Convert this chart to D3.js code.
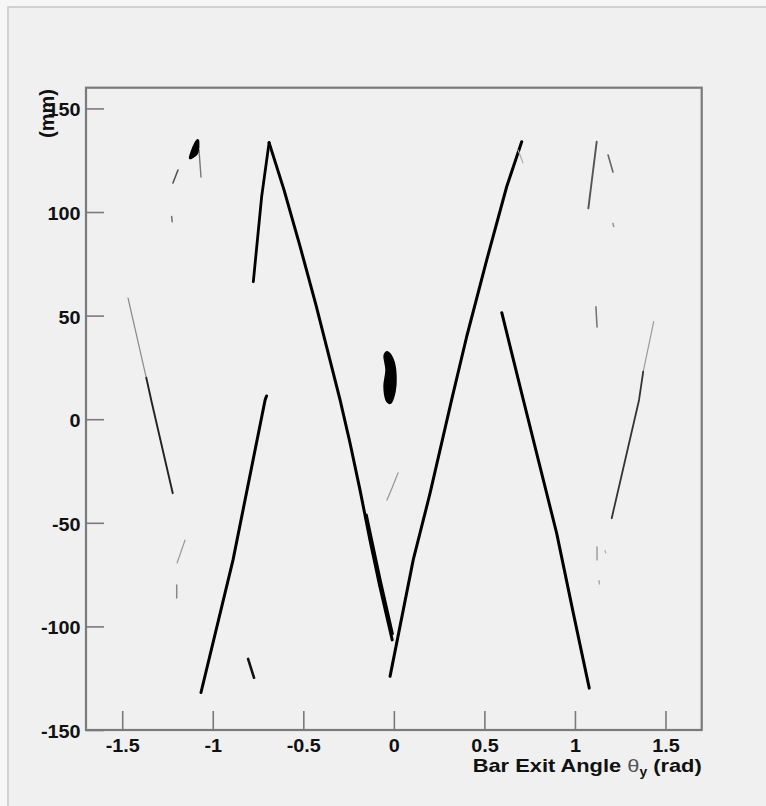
<!DOCTYPE html>
<html lang="en">
<head>
<meta charset="UTF-8">
<title>Bar Exit Angle vs y</title>
<style>
  body { margin: 0; padding: 0; overflow: hidden; background: #f6f6f6; }
  svg { display: block; }
</style>
</head>
<body>
<script src="https://d3js.org/d3.v7.min.js"></script>
<script>
// hit bands, [theta_y (rad), y (mm)] along each band
const leftRise      = [[-1.065, -131.9], [-0.888, -67.9], [-0.711, 9.3], [-0.703, 11.2]];
const leftPeakUp    = [[-0.776, 66.4], [-0.730, 107.4], [-0.689, 133.5]];
const leftPeakDown  = [[-0.689, 133.5], [-0.607, 110.8], [-0.519, 83.8], [-0.431, 55.4], [-0.353, 28.6],
                       [-0.297, 9.3], [-0.242, -11.5], [-0.187, -34.1], [-0.132, -58.3], [-0.077, -80.8], [-0.009, -106.5]];
const leftPeakInner = [[-0.151, -46.2], [-0.074, -77.9], [-0.007, -103.6]];
const centerRise    = [[-0.021, -124.1], [0.107, -67.9], [0.200, -35.7], [0.319, 9.3], [0.402, 39.8],
                       [0.513, 76.9], [0.623, 112.2], [0.706, 133.9]];
const rightFall     = [[0.596, 51.4], [0.715, 9.3], [0.807, -22.9], [0.899, -55.0], [0.991, -93.6], [1.079, -129.8]];
const farLeftTop    = [[-1.468, 58.5], [-1.367, 20.0]];
const farLeftLow    = [[-1.367, 20.0], [-1.340, 9.3], [-1.221, -35.7]];
const farRightTop   = [[1.435, 47.1], [1.377, 23.0]];
const farRightLow   = [[1.377, 23.0], [1.354, 9.3], [1.203, -47.8]];

// small clusters
const blobTopLeft   = [[-1.128, 126.0], [-1.108, 131.5], [-1.088, 134.6], [-1.078, 134.0], [-1.082, 129.0], [-1.100, 127.0]];
const tailTopLeft   = [[-1.076, 129.9], [-1.065, 116.9]];
const dashLeftA     = [[-1.192, 120.3], [-1.220, 114.0]];
const dashLeftB     = [[-1.227, 97.8], [-1.224, 95.3]];
const blobCenter    = [[-0.032, 32.4], [0.001, 27.6], [0.012, 19.9], [0.006, 13.2], [-0.016, 7.9],
                       [-0.043, 9.3], [-0.054, 16.1], [-0.043, 23.8], [-0.054, 30.5]];
const dashCenterLow = [[-0.038, -39.0], [-0.010, -33.2], [0.023, -25.9]];
const dashLeftLowA  = [[-1.153, -58.3], [-1.197, -69.4]];
const dashLeftLowB  = [[-1.199, -80.0], [-1.199, -86.3]];
const markBottom    = [[-0.805, -115.7], [-0.772, -124.8]];
const lineRightTop  = [[1.120, 133.9], [1.074, 101.8]];
const dashRightA    = [[1.183, 127.5], [1.210, 119.3]];
const dashRightB    = [[1.210, 94.5], [1.214, 93.0]];
const dashRightC    = [[1.116, 54.2], [1.122, 44.5]];
const dashRightLowA = [[1.122, -61.6], [1.122, -67.9]];
const dashRightLowB = [[1.166, -63.5], [1.170, -64.5]];
const dashRightLowC = [[1.133, -78.0], [1.135, -79.5]];
const tailRightPeak = [[0.686, 129.9], [0.713, 123.7]];

const xMajor = [-1.5, -1, -0.5, 0, 0.5, 1, 1.5];
const xMinor = d3.range(-16, 17).filter(d => d % 5 !== 0).map(d => d / 10);
const yMajor = [-150, -100, -50, 0, 50, 100, 150];
const yMinor = d3.range(-15, 17).filter(d => d % 5 !== 0).map(d => d * 10);

const width = 766, height = 806;
const svg = d3.select("body").append("svg")
  .attr("width", width)
  .attr("height", height);

// canvas pad
svg.append("rect")
  .attr("x", 8).attr("y", 7)
  .attr("width", 820).attr("height", 820)
  .attr("fill", "#f0f0f0")
  .attr("stroke", "#c6c6c6")
  .attr("stroke-width", 1.5);

const x = d3.scaleLinear().domain([-1.7, 1.7]).range([86, 701.7]);
const y = d3.scaleLinear().domain([-150, 160]).range([730, 87.7]);

const line = d3.line().x(d => x(d[0])).y(d => y(d[1]));
const blob = d3.line().x(d => x(d[0])).y(d => y(d[1])).curve(d3.curveCardinalClosed);

const tracks = [
  { pts: leftRise, w: 3, c: "#000" },
  { pts: leftPeakUp, w: 2.8, c: "#000" },
  { pts: leftPeakDown, w: 3, c: "#000" },
  { pts: leftPeakInner, w: 2.6, c: "#000" },
  { pts: centerRise, w: 3, c: "#000" },
  { pts: rightFall, w: 3, c: "#000" },
  { pts: farLeftTop, w: 1.2, c: "#8a8a8a" },
  { pts: farLeftLow, w: 1.9, c: "#222" },
  { pts: farRightTop, w: 1.2, c: "#9a9a9a" },
  { pts: farRightLow, w: 1.8, c: "#333" },
  { pts: tailTopLeft, w: 1.4, c: "#777" },
  { pts: dashLeftA, w: 1.6, c: "#555" },
  { pts: dashLeftB, w: 1.6, c: "#777" },
  { pts: dashCenterLow, w: 1.3, c: "#999" },
  { pts: dashLeftLowA, w: 1.2, c: "#999" },
  { pts: dashLeftLowB, w: 1.5, c: "#888" },
  { pts: markBottom, w: 2.6, c: "#111" },
  { pts: lineRightTop, w: 1.9, c: "#555" },
  { pts: dashRightA, w: 1.6, c: "#666" },
  { pts: dashRightB, w: 1.6, c: "#999" },
  { pts: dashRightC, w: 1.6, c: "#777" },
  { pts: dashRightLowA, w: 1.4, c: "#999" },
  { pts: dashRightLowB, w: 1.3, c: "#aaa" },
  { pts: dashRightLowC, w: 1.5, c: "#aaa" },
  { pts: tailRightPeak, w: 1.2, c: "#aaa" }
];

svg.append("g").selectAll("path")
  .data(tracks)
  .join("path")
  .attr("d", d => line(d.pts))
  .attr("fill", "none")
  .attr("stroke", d => d.c)
  .attr("stroke-width", d => d.w)
  .attr("stroke-linecap", "round")
  .attr("stroke-linejoin", "round");

// dense clusters drawn as filled blobs
svg.append("g").selectAll("path")
  .data([blobTopLeft, blobCenter])
  .join("path")
  .attr("d", blob)
  .attr("fill", "#000")
  .attr("stroke", "#000")
  .attr("stroke-width", 1.5);

// axes: ticks point inward, labels below/left
const fmt = d => String(d);
const font = "'Liberation Sans', Arial, Helvetica, sans-serif";

const gx = svg.append("g").attr("transform", `translate(0,${y(-150)})`);
gx.call(d3.axisBottom(x).tickValues(xMinor).tickSize(-10).tickFormat(""));
gx.call(d3.axisBottom(x).tickValues(xMajor).tickSize(-19).tickPadding(9).tickFormat(fmt));

const gy = svg.append("g").attr("transform", `translate(${x(-1.7)},0)`);
gy.call(d3.axisLeft(y).tickValues(yMinor).tickSize(-9).tickFormat(""));
gy.call(d3.axisLeft(y).tickValues(yMajor).tickSize(-18).tickPadding(5).tickFormat(fmt));

svg.selectAll(".domain").remove();
svg.selectAll(".tick line").attr("stroke", "#7a7a7a").attr("stroke-width", 1.6);
svg.selectAll(".tick text")
  .attr("font-family", font)
  .attr("font-size", 18)
  .attr("font-weight", "bold")
  .attr("fill", "#111")
  .attr("transform", "scale(1.1,1)");
gy.selectAll(".tick text").attr("dy", "0.42em");

// frame
svg.append("rect")
  .attr("x", x(-1.7)).attr("y", y(160))
  .attr("width", x(1.7) - x(-1.7))
  .attr("height", y(-150) - y(160))
  .attr("fill", "none")
  .attr("stroke", "#7a7a7a")
  .attr("stroke-width", 2.2);

// axis titles
const xt = svg.append("text")
  .attr("x", x(1.7)).attr("y", 772)
  .attr("text-anchor", "end")
  .attr("font-family", font)
  .attr("font-size", 19)
  .attr("font-weight", "bold")
  .attr("fill", "#111")
  .attr("textLength", 229)
  .attr("lengthAdjust", "spacingAndGlyphs");
xt.append("tspan").text("Bar Exit Angle ");
xt.append("tspan").attr("font-weight", "normal").attr("fill", "#555").text("θ");
xt.append("tspan").attr("font-size", 12).attr("dy", 4).text("y");
xt.append("tspan").attr("dy", -4).text(" (rad)");

svg.append("text")
  .attr("transform", "translate(54,89) rotate(-90)")
  .attr("text-anchor", "end")
  .attr("font-family", font)
  .attr("font-size", 20)
  .attr("font-weight", "bold")
  .attr("fill", "#111")
  .text("(mm)");
</script>
</body>
</html>
